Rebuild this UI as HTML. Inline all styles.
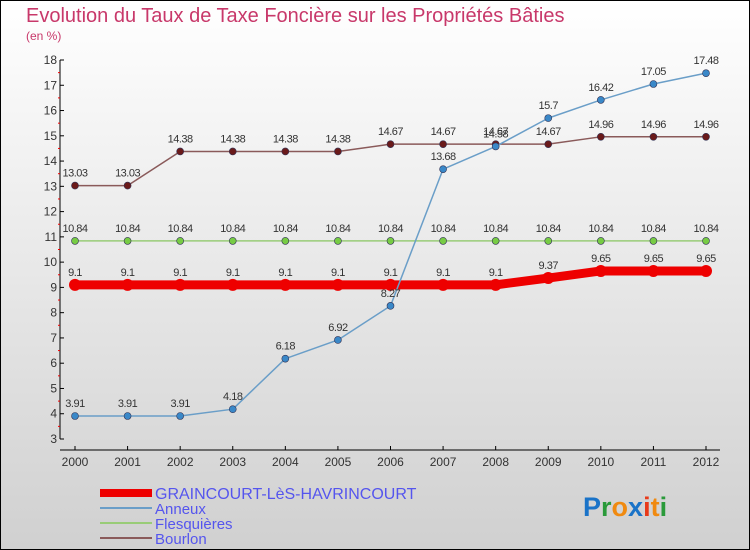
<!DOCTYPE html>
<html><head><meta charset="utf-8"><style>
html,body{margin:0;padding:0}
body{width:750px;height:550px;overflow:hidden}
svg{display:block;font-family:"Liberation Sans",sans-serif}
</style></head><body>
<svg id="c" width="750" height="550" viewBox="0 0 750 550">
<defs><linearGradient id="bg" x1="0" y1="0" x2="0" y2="1"><stop offset="0" stop-color="#ffffff"/><stop offset="1" stop-color="#d0d0d0"/></linearGradient></defs>
<rect x="0.5" y="0.5" width="749" height="549" fill="url(#bg)" stroke="#000"/>
<text x="26" y="22" font-size="20" fill="#c8386a">Evolution du Taux de Taxe Foncière sur les Propriétés Bâties</text>
<text x="26" y="40" font-size="12" fill="#c8386a">(en %)</text>
<g id="axes"></g><g id="series"></g>
<g>
<rect x="100" y="489" width="52" height="8" fill="#ee0000"/>
<text x="155" y="499" font-size="16" fill="#5555ee">GRAINCOURT-LèS-HAVRINCOURT</text>
<line x1="100" y1="508" x2="152" y2="508" stroke="#6a9ec8" stroke-width="2"/>
<text x="155" y="514" font-size="15" fill="#5555ee">Anneux</text>
<line x1="100" y1="523" x2="152" y2="523" stroke="#99cc77" stroke-width="2"/>
<text x="155" y="529" font-size="15" fill="#5555ee">Flesquières</text>
<line x1="100" y1="538" x2="152" y2="538" stroke="#8a5a5a" stroke-width="2"/>
<text x="155" y="544" font-size="15" fill="#5555ee">Bourlon</text>
</g>
<text x="583" y="516" font-size="27" font-weight="bold"><tspan fill="#1a73c8">P</tspan><tspan fill="#2a9a3a">r</tspan><tspan fill="#f08a10">o</tspan><tspan fill="#1a73c8">x</tspan><tspan fill="#e83a1a">i</tspan><tspan fill="#f08a10">t</tspan><tspan fill="#2a9a3a">i</tspan></text>
</svg>
<script>
const years=["2000","2001","2002","2003","2004","2005","2006","2007","2008","2009","2010","2011","2012"];
const yTicks=[3,4,5,6,7,8,9,10,11,12,13,14,15,16,17,18];
const graincourt=[9.1,9.1,9.1,9.1,9.1,9.1,9.1,9.1,9.1,9.37,9.65,9.65,9.65];
const anneux=[3.91,3.91,3.91,4.18,6.18,6.92,8.27,13.68,14.58,15.7,16.42,17.05,17.48];
const flesquieres=[10.84,10.84,10.84,10.84,10.84,10.84,10.84,10.84,10.84,10.84,10.84,10.84,10.84];
const bourlon=[13.03,13.03,14.38,14.38,14.38,14.38,14.67,14.67,14.67,14.67,14.96,14.96,14.96];
const NS="http://www.w3.org/2000/svg";
const X=i=>75+i*(631/12);
const Y=v=>439-(v-3)*(379/15);
function mk(p,t,a){const e=document.createElementNS(NS,t);for(const k in a)e.setAttribute(k,a[k]);p.appendChild(e);return e;}
const ax=document.getElementById('axes');
let l=mk(ax,'line',{x1:60,y1:Y(18),x2:60,y2:Y(3),stroke:'#000'});


l=mk(ax,'line',{x1:60,y1:450,x2:720,y2:450,stroke:'#000'});


yTicks.forEach(v=>{
  mk(ax,'line',{x1:60,y1:Y(v),x2:64,y2:Y(v),stroke:'#000'});
  if(v<18)mk(ax,'line',{x1:58,y1:Y(v+0.5),x2:60,y2:Y(v+0.5),stroke:'#e00'});
  const t=mk(ax,'text',{x:57,y:Y(v)+4,'font-size':12,fill:'#333','text-anchor':'end'});t.textContent=v;
  
  
});
years.forEach((y,i)=>{
  mk(ax,'line',{x1:X(i),y1:446,x2:X(i),y2:450,stroke:'#000'});
  const t=mk(ax,'text',{x:X(i),y:466,'font-size':12,fill:'#333','text-anchor':'middle'});t.textContent=y;
  
  
});
const sg=document.getElementById('series');
function series(name,data,color,w,r,dot){
  const g=mk(sg,'g',{});
  
  
  mk(g,'polyline',{points:data.map((v,i)=>X(i)+','+Y(v)).join(' '),fill:'none',stroke:color,'stroke-width':w,'stroke-linejoin':'round'});
  data.forEach((v,i)=>{
    const c=mk(g,'circle',{cx:X(i),cy:Y(v),r:r,fill:dot,stroke:'#335',"stroke-width":r>4?0:0.6});
    
    
    const t=mk(g,'text',{x:X(i),y:Y(v)-9,'font-size':11,fill:'#333','text-anchor':'middle','letter-spacing':'-0.5'});t.textContent=String(v);
    
    
  });
}
series('flesquieres',flesquieres,'#99cc77',1.5,3.5,'#77cc44');
series('bourlon',bourlon,'#8a5a5a',1.5,3.5,'#6a1a1a');
series('graincourt',graincourt,'#ee0000',9,6,'#ee0000');
series('anneux',anneux,'#6a9ec8',1.5,3.5,'#3a88c8');
</script>
</body></html>
